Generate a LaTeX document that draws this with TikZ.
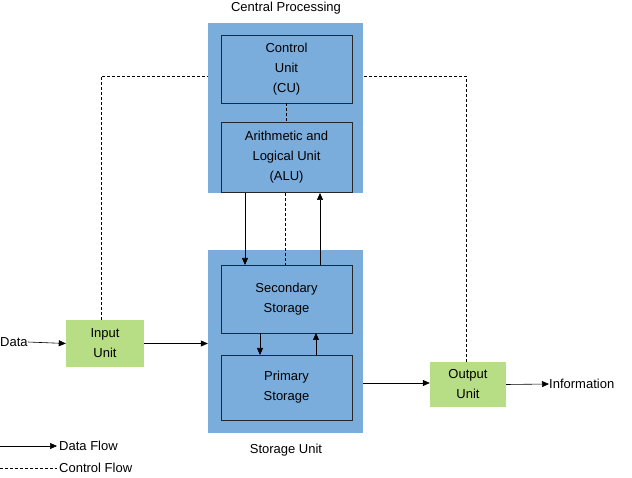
\documentclass[tikz,border=0pt]{standalone}
\usepackage{fontspec}
\setmainfont{Liberation Sans}
\usetikzlibrary{arrows.meta}
\definecolor{bluef}{HTML}{7AACDC}
\definecolor{greenf}{HTML}{B7DD85}
\begin{document}
\begin{tikzpicture}[x=1pt,y=-1pt,
  every node/.style={font=\fontsize{13}{20}\selectfont, align=center, inner sep=0},
  outer/.style={fill=bluef, draw=none},
  inner/.style={fill=bluef, draw=black!85, line width=0.7pt},
  unit/.style={fill=greenf, draw=none},
  flow/.style={-{Triangle[length=7pt,width=6pt]}, line width=0.6pt},
  ctrl/.style={dashed, line width=0.5pt, dash pattern=on 3pt off 2pt}]
\useasboundingbox (0,0) rectangle (632,478);
\node[outer, minimum width=155, minimum height=170] (cpu) at (285.5,108) {};
\node[outer, minimum width=155, minimum height=183] (stor) at (285.5,341.5) {};
\node[inner, minimum width=131, minimum height=68] (cu) at (286.5,69) {Control\\Unit\\(CU)};
\node[inner, minimum width=131, minimum height=70] (alu) at (286.5,157) {Arithmetic and\\Logical Unit\\(ALU)};
\node[inner, minimum width=131, minimum height=68] (sec) at (286.5,299) {Secondary\\Storage};
\node[inner, minimum width=131, minimum height=65] (pri) at (286.5,387.5) {Primary\\Storage};
\node[unit, minimum width=78, minimum height=47] (in) at (105,343.5) {Input\\Unit};
\node[unit, minimum width=76, minimum height=45] (out) at (468,384.5) {Output\\Unit};
\node (cpl) at (286,8) {Central Processing};
\node (stl) at (286,450) {Storage Unit};
\node[anchor=west] (data) at (0,342) {Data};
\node[anchor=west] (info) at (549,384) {Information};
\coordinate (d1) at (101,76); \coordinate (d2) at (466,76);
\draw[ctrl] (in.north -| d1) -- (d1) -- (cpu.west |- d1);
\draw[ctrl] (out.north -| d2) -- (d2) -- (cpu.east |- d2);
\draw[ctrl] (cu.south) -- (alu.north);
\draw[ctrl] (285,193) -- (285,265);
\draw[flow] (245,193) -- (245,265);
\draw[flow] (320,265) -- (320,193);
\draw[flow] (260,333) -- (260,355);
\draw[flow] (316,355) -- (316,333);
\draw[flow] (data.east) -- (in.west);
\draw[flow] (in.east) -- (in.east -| stor.west);
\draw[flow] (stor.east |- 0,383) -- (out.west |- 0,383);
\draw[flow] (out.east) -- (info.west);
\coordinate (l1) at (0,446); \coordinate (l2) at (57,446);
\coordinate (l3) at (0,468); \coordinate (l4) at (57,468);
\draw[flow] (l1) -- (l2);
\draw[ctrl] (l3) -- (l4);
\node[anchor=west] (lf1) at (59,446) {Data Flow};
\node[anchor=west] (lf2) at (59,468) {Control Flow};
\end{tikzpicture}
\end{document}
